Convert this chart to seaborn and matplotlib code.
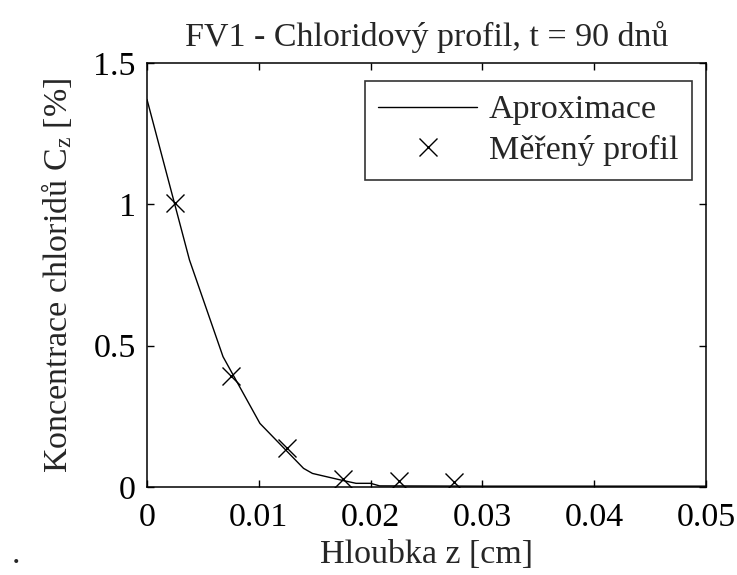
import matplotlib
matplotlib.use("Agg")
import matplotlib.pyplot as plt
import seaborn as sns
import pandas as pd

# Fitted chloride profile (approximation curve)
fit_depth = [0.0, 0.0038, 0.0068, 0.0101, 0.0140, 0.0148, 0.0173, 0.0187,
             0.0200, 0.0208, 0.0300, 0.0400, 0.0500]
fit_conc = [1.371, 0.803, 0.461, 0.225, 0.066, 0.048, 0.025, 0.013,
            0.013, 0.004, 0.003, 0.003, 0.003]

# Measured chloride concentrations
meas_depth = [0.0025, 0.0075, 0.0125, 0.0175, 0.0225, 0.0275]
meas_conc = [1.003, 0.393, 0.139, 0.028, 0.021, 0.017]

x_ticks = [0, 0.01, 0.02, 0.03, 0.04, 0.05]
x_tick_labels = ["0", "0.01", "0.02", "0.03", "0.04", "0.05"]
y_ticks = [0, 0.5, 1.0, 1.5]
y_tick_labels = ["0", "0.5", "1", "1.5"]

title = "FV1 - Chloridový profil, t = 90 dnů"
x_label = "Hloubka z [cm]"
y_label = r"Koncentrace chloridů C$_\mathrm{z}$ [%]"
legend_labels = ["Aproximace", "Měřený profil"]

sns.set_theme(style="ticks")
plt.rcParams["font.family"] = ["Liberation Serif", "DejaVu Serif"]
plt.rcParams["mathtext.fontset"] = "custom"
plt.rcParams["mathtext.rm"] = "Liberation Serif"
plt.rcParams["mathtext.it"] = "Liberation Serif:italic"

FS = 24.5

fit_df = pd.DataFrame({"depth": fit_depth, "conc": fit_conc})
meas_df = pd.DataFrame({"depth": meas_depth, "conc": meas_conc})

fig = plt.figure(figsize=(7.37, 5.75), dpi=100)
ax = fig.add_axes([147 / 737, 1 - 487 / 575, (706 - 147) / 737, (487 - 63) / 575])

sns.lineplot(data=fit_df, x="depth", y="conc", ax=ax, color="black",
             linewidth=1.0, label=legend_labels[0], sort=False)
ax.plot(meas_df["depth"], meas_df["conc"], linestyle="none", marker="x",
        markersize=12.5, markeredgewidth=1.0, color="black",
        label=legend_labels[1])

ax.set_xlim(0, 0.05)
ax.set_ylim(0, 1.5)
ax.set_xticks(x_ticks)
ax.set_xticklabels(x_tick_labels)
ax.set_yticks(y_ticks)
ax.set_yticklabels(y_tick_labels)
ax.tick_params(direction="in", length=5, width=1, labelsize=FS,
               top=True, right=True, colors="black")
ax.tick_params(axis="x", pad=11)
ax.tick_params(axis="y", pad=8)
for sp in ax.spines.values():
    sp.set_visible(True)
    sp.set_linewidth(1.1)
    sp.set_color("black")

ax.set_title(title, fontsize=FS, pad=12)
ax.set_xlabel(x_label, fontsize=FS, labelpad=5)
ax.set_ylabel(y_label, fontsize=FS, labelpad=14)

leg = ax.legend(loc="upper right", bbox_to_anchor=(692 / 737, 1 - 81 / 575),
                bbox_transform=fig.transFigure, borderaxespad=0,
                fontsize=FS, frameon=True, fancybox=False, edgecolor="black",
                handlelength=2.9, handletextpad=0.35, borderpad=0.4,
                labelspacing=0.28)
leg.get_frame().set_linewidth(1.2)

fig.text(12 / 737, 1 - 555 / 575, ".", fontsize=FS, ha="left", va="center")

fig.savefig("out.png", dpi=100, facecolor="white")
